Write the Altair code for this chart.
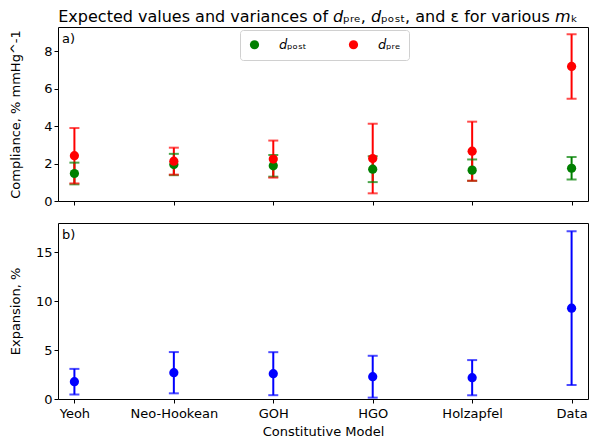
import altair as alt
import pandas as pd

models = ["Yeoh", "Neo-Hookean", "GOH", "HGO", "Holzapfel", "Data"]
post_mean = [1.47, 1.95, 1.88, 1.70, 1.65, 1.75]
post_err = [0.58, 0.57, 0.58, 0.69, 0.57, 0.60]
pre_mean = [2.42, 2.13, 2.24, 2.27, 2.66, 7.19]
pre_err = [1.48, 0.72, 0.99, 1.86, 1.58, 1.72]
exp_mean = [1.77, 2.69, 2.59, 2.28, 2.18, 9.29]
exp_err = [1.31, 2.11, 2.20, 2.14, 1.80, 7.87]

POST = "𝘥ₚₒₛₜ"
PRE = "𝘥ₚᵣₑ"
TITLE = "Expected values and variances of 𝘥ₚᵣₑ, 𝘥ₚₒₛₜ, and ε for various 𝘮ₖ"

rows = []
for lab, means, errs in [(POST, post_mean, post_err), (PRE, pre_mean, pre_err)]:
    for m, v, e in zip(models, means, errs):
        rows.append({"model": m, "series": lab, "mean": v, "lo": v - e, "hi": v + e})
top_df = pd.DataFrame(rows)
bot_df = pd.DataFrame({"model": models, "mean": exp_mean,
                       "lo": [v - e for v, e in zip(exp_mean, exp_err)],
                       "hi": [v + e for v, e in zip(exp_mean, exp_err)]})

W = 530
H1 = 174
H2 = 176
FONT = "DejaVu Sans"

xscale = alt.Scale(type="point", padding=0.165)
cscale = alt.Scale(domain=[POST, PRE], range=["#008000", "#ff0000"])


def xenc(labels, title=None):
    if labels:
        return alt.X("model:N", sort=models, scale=xscale,
                     axis=alt.Axis(title=title, labelAngle=0, labelPadding=4, titlePadding=5))
    return alt.X("model:N", sort=models, scale=xscale,
                 axis=alt.Axis(title=None, labels=False))


def panel(df, h, ytitle, dom, ticks, colored, labels, xtitle, tag):
    base = alt.Chart(df)
    y_axis = alt.Axis(title=ytitle, values=ticks, titleX=-36, titleY=h / 2)
    ysc = alt.Scale(domain=dom, nice=False, zero=True)
    if colored:
        col_nl = alt.Color("series:N", scale=cscale, legend=None)
        col_l = alt.Color("series:N", scale=cscale,
                          legend=alt.Legend(title=None, orient="none", legendX=182, legendY=3,
                                            direction="horizontal", symbolType="circle",
                                            symbolSize=85, symbolStrokeWidth=0,
                                            labelFontSize=13, labelFont=FONT, labelOffset=18,
                                            columnPadding=40, padding=8,
                                            strokeColor="#d0d0d0", fillColor="white",
                                            cornerRadius=3))
    else:
        col_nl = alt.value("#0000ff")
        col_l = alt.value("#0000ff")
    x = xenc(labels, xtitle)
    rules = base.mark_rule(strokeWidth=2).encode(
        x=x, y=alt.Y("lo:Q", scale=ysc, axis=y_axis), y2="hi:Q", color=col_nl)
    cap_lo = base.mark_tick(thickness=2, size=10).encode(x=x, y="lo:Q", color=col_nl)
    cap_hi = base.mark_tick(thickness=2, size=10).encode(x=x, y="hi:Q", color=col_nl)
    pts = base.mark_point(filled=True, size=85, opacity=1).encode(x=x, y="mean:Q", color=col_l)
    txt = alt.Chart(pd.DataFrame({"t": [tag]})).mark_text(
        align="left", baseline="middle", fontSize=13, font=FONT, color="black"
    ).encode(text="t:N", x=alt.value(4), y=alt.value(12))
    layer = alt.layer(rules, cap_lo, cap_hi, pts, txt).properties(width=W, height=h)
    if colored:
        layer = layer.resolve_legend(color="independent")
    return layer


top = panel(top_df, H1, "Compliance, % mmHg^-1", [0, 9.3], [0, 2, 4, 6, 8], True, False, None, "a)")
bot = panel(bot_df, H2, "Expansion, %", [0, 18.0], [0, 5, 10, 15], False, True, "Constitutive Model", "b)")

chart = alt.vconcat(top, bot, spacing=22, bounds="flush").properties(
    title=alt.TitleParams(TITLE, fontSize=16, font=FONT, fontWeight="normal",
                          anchor="middle", frame="group", offset=2, dx=-5, color="black")
).configure(padding=0).configure_view(
    stroke="black", strokeWidth=1
).configure_axis(
    grid=False, domain=False, tickColor="black", tickSize=4, labelColor="black",
    labelFont=FONT, labelFontSize=13, titleFont=FONT, titleFontSize=13,
    titleFontWeight="normal", titleColor="black"
)

chart.save("out.html", embed_options={"renderer": "svg", "actions": False})
